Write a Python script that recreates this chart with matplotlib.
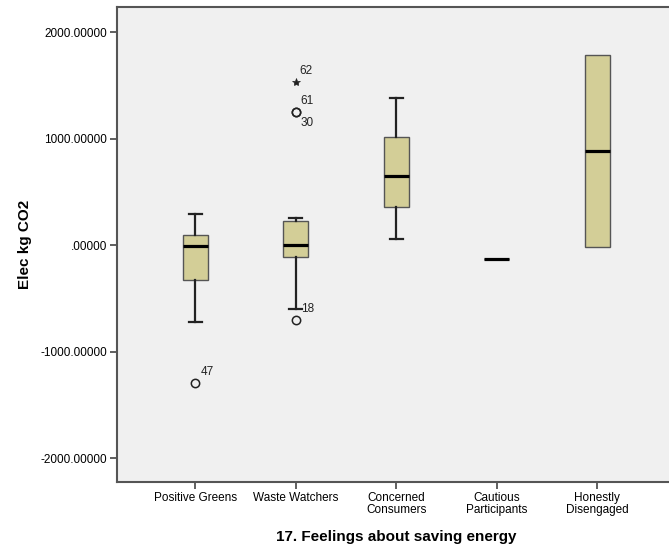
import matplotlib.pyplot as plt
import numpy as np

plt.rcParams['font.family'] = ['Liberation Sans', 'DejaVu Sans']

# groups and box statistics (Elec kg CO2)
groups = ['Positive Greens', 'Waste Watchers', 'Concerned\nConsumers',
          'Cautious\nParticipants', 'Honestly\nDisengaged']
q1 = [-331, -116, 354, -134, -22]
median = [-12, -3, 651, -134, 883]
q3 = [94, 228, 1017, -134, 1784]
whislo = [-719, -598, 56, -134, -22]
whishi = [294, 251, 1380, -134, 1784]

# outliers (circles) and extremes (stars) with case numbers
out_group = [1, 2, 2, 2]
out_value = [-1292, -704, 1252, 1245]
out_case = ['47', '18', '61', '30']
ext_group = [2]
ext_value = [1528]
ext_case = ['62']

box_fill = '#d3ce97'
bg = '#f0f0f0'

fig = plt.figure(figsize=(6.69, 5.46), dpi=100)
fig.patch.set_facecolor('white')
ax = fig.add_axes([117 / 669, 1 - 482 / 546, 1 - 117 / 669 + 0.01, (482 - 7) / 546])
ax.set_facecolor(bg)

stats = []
for i in range(len(groups)):
    fl = [v for g, v in zip(out_group, out_value) if g == i + 1]
    stats.append(dict(q1=q1[i], med=median[i], q3=q3[i],
                      whislo=whislo[i], whishi=whishi[i], fliers=fl))

pos = np.arange(1, len(groups) + 1)
ax.bxp(stats, positions=pos, widths=0.25, capwidths=[0.13, 0.13, 0.13, 0, 0],
       patch_artist=True,
       boxprops=dict(facecolor=box_fill, edgecolor='#555555', linewidth=1.0),
       medianprops=dict(color='black', linewidth=2.3),
       whiskerprops=dict(color='#222222', linewidth=1.6),
       capprops=dict(color='#222222', linewidth=1.6),
       flierprops=dict(marker='o', markerfacecolor='none', markeredgecolor='#222222',
                       markersize=6, markeredgewidth=1.1))

ax.plot(ext_group, ext_value, linestyle='none', marker='*', color='#222222',
        markersize=6, markeredgewidth=0.5)

# case labels next to outliers
for g, v, c in zip(out_group, out_value, out_case):
    dy = -11 if c == '30' else 11
    ax.annotate(c, (g, v), xytext=(5, dy), textcoords='offset pixels',
                fontsize=8.5, color='#222222', va='center', ha='left')
for g, v, c in zip(ext_group, ext_value, ext_case):
    ax.annotate(c, (g, v), xytext=(4, 11), textcoords='offset pixels',
                fontsize=8.5, color='#222222', va='center', ha='left')

ax.set_xlim(0.22, 5.78)
ax.set_ylim(-2225, 2235)
ax.set_xticks(pos)
ax.set_xticklabels(groups, fontsize=8.5, linespacing=1.05)
yt = [-2000, -1000, 0, 1000, 2000]
ax.set_yticks(yt)
ax.set_yticklabels(['.00000' if v == 0 else '%.5f' % v for v in yt], fontsize=8.5)
ax.tick_params(axis='both', direction='out', length=5, width=1.2, color='#444444', pad=2)

for s in ax.spines.values():
    s.set_color('#555555')
    s.set_linewidth(1.5)

ax.set_ylabel('Elec kg CO2', fontsize=11, fontweight='bold', labelpad=6)
ax.set_xlabel('17. Feelings about saving energy', fontsize=11, fontweight='bold', labelpad=10)

fig.savefig('out.png', dpi=100, facecolor='white')
